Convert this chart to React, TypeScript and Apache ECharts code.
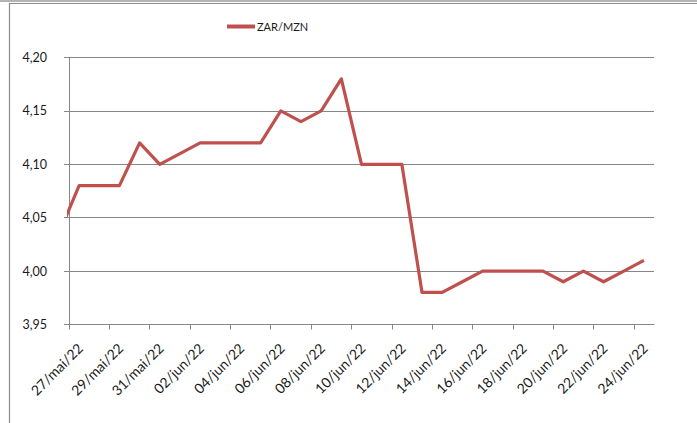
import React, { useEffect, useRef } from "react";
import * as echarts from "echarts";

const days = [
  "26/mai/22", "27/mai/22", "28/mai/22", "29/mai/22", "30/mai/22", "31/mai/22",
  "01/jun/22", "02/jun/22", "03/jun/22", "04/jun/22", "05/jun/22", "06/jun/22",
  "07/jun/22", "08/jun/22", "09/jun/22", "10/jun/22", "11/jun/22", "12/jun/22",
  "13/jun/22", "14/jun/22", "15/jun/22", "16/jun/22", "17/jun/22", "18/jun/22",
  "19/jun/22", "20/jun/22", "21/jun/22", "22/jun/22", "23/jun/22", "24/jun/22",
];

const zarMzn = [
  4.035, 4.08, 4.08, 4.08, 4.12, 4.10,
  4.11, 4.12, 4.12, 4.12, 4.12, 4.15,
  4.14, 4.15, 4.18, 4.10, 4.10, 4.10,
  3.98, 3.98, 3.99, 4.00, 4.00, 4.00,
  4.00, 3.99, 4.00, 3.99, 4.00, 4.01,
];

const tickLabels = [
  "27/mai/22", "29/mai/22", "31/mai/22", "02/jun/22", "04/jun/22",
  "06/jun/22", "08/jun/22", "10/jun/22", "12/jun/22", "14/jun/22",
  "16/jun/22", "18/jun/22", "20/jun/22", "22/jun/22", "24/jun/22",
];

const yTicks = [3.95, 4.0, 4.05, 4.1, 4.15, 4.2];

export default function App() {
  const ref = useRef<HTMLDivElement>(null);
  useEffect(() => {
    document.body.style.margin = "0";
    const chart = echarts.init(ref.current!, null, { renderer: "svg" });
    const FONT = "Lato";
    const LABEL_SHIFT = 0.55;
    const tickVals = tickLabels.map((_, i) => i * 2);
    const labelVals = tickLabels.map((_, i) => i * 2 + LABEL_SHIFT);
    chart.setOption({
      animation: false,
      backgroundColor: "#ffffff",
      graphic: [
        { type: "line", shape: { x1: 0, y1: 1, x2: 697, y2: 1 }, style: { stroke: "#9a9a9a", lineWidth: 1.5 } },
        { type: "rect", shape: { x: 9.5, y: 3.5, width: 720, height: 440 }, style: { fill: "none", stroke: "#8c8c8c", lineWidth: 1.2 } },
      ],
      legend: {
        left: 227,
        top: 21,
        padding: 0,
        icon: "rect",
        itemWidth: 28,
        itemHeight: 4,
        textStyle: { fontFamily: FONT, fontSize: 11, color: "#1a1a1a", padding: [0, 0, 0, -3] },
        data: ["ZAR/MZN"],
      },
      grid: { left: 69, right: 43, top: 57.5, bottom: 98.5, containLabel: false },
      xAxis: {
        type: "value",
        min: 0,
        max: 29,
        splitLine: { show: false },
        axisLine: { show: true, lineStyle: { color: "#868686", width: 1 } },
        axisTick: { show: true, length: 5, customValues: tickVals, lineStyle: { color: "#868686" } },
        axisLabel: {
          customValues: labelVals,
          rotate: 45,
          margin: 21,
          fontFamily: FONT,
          fontSize: 14,
          color: "#1a1a1a",
          formatter: (v: number) => tickLabels[Math.round((v - LABEL_SHIFT) / 2)] ?? "",
        },
      },
      yAxis: {
        type: "value",
        min: yTicks[0],
        max: yTicks[yTicks.length - 1],
        interval: 0.05,
        axisLine: { show: true, lineStyle: { color: "#868686", width: 1 } },
        axisTick: { show: true, length: 5, lineStyle: { color: "#868686" } },
        splitLine: { show: true, lineStyle: { color: "#868686", width: 1 } },
        axisLabel: {
          margin: 22,
          fontFamily: FONT,
          fontSize: 12.5,
          color: "#1a1a1a",
          formatter: (v: number) => v.toFixed(2).replace(".", ","),
        },
      },
      series: [
        {
          name: "ZAR/MZN",
          type: "line",
          clip: true,
          showSymbol: false,
          symbol: "none",
          color: "#c0504d",
          lineStyle: { color: "#c0504d", width: 3.2, join: "round" },
          data: zarMzn.map((v, i) => [i - 0.5, v]),
        },
      ],
    });
    return () => chart.dispose();
  }, []);
  return <div ref={ref} style={{ width: 697, height: 423 }} />;
}
